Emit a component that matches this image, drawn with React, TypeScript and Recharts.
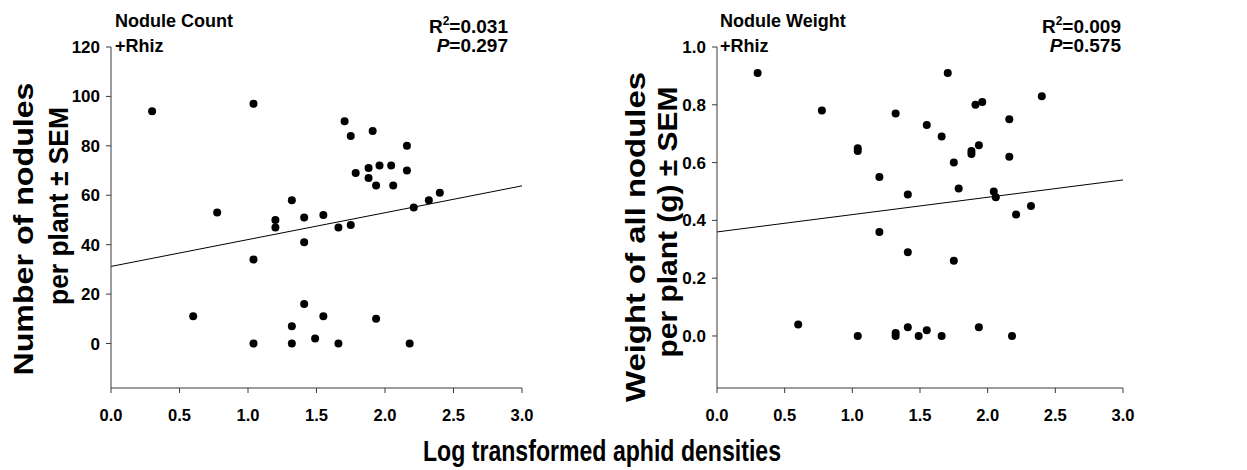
import { ReferenceLine, Scatter, ScatterChart, XAxis, YAxis } from 'recharts';

// log transformed aphid densities, one entry per plant (shared by both panels)
const aphidDensity = [
  0.3, 0.6, 0.775, 1.04, 1.04, 1.04, 1.2, 1.2, 1.32, 1.32, 1.32, 1.41, 1.41, 1.41, 1.49, 1.55, 1.55,
  1.66, 1.66, 1.705, 1.75, 1.75, 1.786, 1.88, 1.88, 1.91, 1.935, 1.935, 1.96, 2.045, 2.06, 2.16, 2.16,
  2.18, 2.21, 2.32, 2.4,
];

const noduleCount = [
  94, 11, 53, 97, 34, 0, 50, 47, 58, 7, 0, 51, 41, 16, 2, 52, 11, 47, 0, 90, 84, 48, 69, 71, 67, 86, 64,
  10, 72, 72, 64, 80, 70, 0, 55, 58, 61,
];

const noduleWeight = [
  0.91, 0.04, 0.78, 0.65, 0.64, 0.0, 0.55, 0.36, 0.77, 0.01, 0.0, 0.49, 0.29, 0.03, 0.0, 0.73, 0.02,
  0.69, 0.0, 0.91, 0.6, 0.26, 0.51, 0.64, 0.63, 0.8, 0.66, 0.03, 0.81, 0.5, 0.48, 0.75, 0.62, 0.0, 0.42,
  0.45, 0.83,
];

// fitted lines, read at x = 0 and x = 3
const countFit = [31.2, 63.8];
const weightFit = [0.36, 0.54];

const xTicks = [0, 0.5, 1, 1.5, 2, 2.5, 3];
const countTicks = [0, 20, 40, 60, 80, 100, 120];
const weightTicks = [0, 0.2, 0.4, 0.6, 0.8, 1.0];

const FONT = '"Liberation Sans", Arial, Helvetica, sans-serif';
const AXIS = '#3a3a3a';

const countData = aphidDensity.map((x, i) => ({ x, y: noduleCount[i] }));
const weightData = aphidDensity.map((x, i) => ({ x, y: noduleWeight[i] }));

function Dot(props: any) {
  return <circle cx={props.cx} cy={props.cy} r={4} fill="#000" />;
}

function XTick({ x, y, payload }: any) {
  return (
    <text
      x={x}
      y={y + 26}
      textAnchor="middle"
      fontFamily={FONT}
      fontWeight="bold"
      fontSize={17}
      fill="#000"
      textLength={23}
      lengthAdjust="spacingAndGlyphs"
    >
      {payload.value.toFixed(1)}
    </text>
  );
}

function makeYTick(digits: number) {
  return function YTick({ x, y, payload }: any) {
    return (
      <text x={x - 4} y={y + 6} textAnchor="end" fontFamily={FONT} fontWeight="bold" fontSize={17} fill="#000">
        {payload.value.toFixed(digits)}
      </text>
    );
  };
}

type PanelProps = {
  data: { x: number; y: number }[];
  fit: number[];
  yDomain: [number, number];
  yTicks: number[];
  digits: number;
  width: number;
  axisWidth: number;
  right: number;
};

function Panel({ data, fit, yDomain, yTicks, digits, width, axisWidth, right }: PanelProps) {
  return (
    <ScatterChart width={width} height={470} margin={{ top: 47, right, bottom: 42, left: 0 }}>
      <XAxis
        type="number"
        dataKey="x"
        domain={[0, 3]}
        ticks={xTicks}
        height={40}
        stroke={AXIS}
        tickSize={5}
        tick={<XTick />}
        interval={0}
      />
      <YAxis
        type="number"
        dataKey="y"
        domain={yDomain}
        ticks={yTicks}
        width={axisWidth}
        stroke={AXIS}
        tickSize={5}
        tick={makeYTick(digits)}
        interval={0}
        allowDataOverflow
      />
      <ReferenceLine
        segment={[
          { x: 0, y: fit[0] },
          { x: 3, y: fit[1] },
        ]}
        stroke="#000"
        strokeWidth={1}
      />
      <Scatter data={data} shape={<Dot />} isAnimationActive={false} />
    </ScatterChart>
  );
}

function Stats({ x, r2, p }: { x: number; r2: string; p: string }) {
  return (
    <>
      <text x={x} y={33} textAnchor="end" fontSize={19} fontWeight="bold">
        R<tspan fontSize={12} dy={-8}>2</tspan>
        <tspan dy={8}>={r2}</tspan>
      </text>
      <text x={x} y={52} textAnchor="end" fontSize={19} fontWeight="bold">
        <tspan fontStyle="italic">P</tspan>={p}
      </text>
    </>
  );
}

export default function App() {
  return (
    <div style={{ position: 'absolute', left: 0, top: 0, width: 1247, height: 470, background: '#fff' }}>
      <div style={{ position: 'absolute', left: 0, top: 0 }}>
        <Panel
          data={countData}
          fit={countFit}
          yDomain={[-18, 120]}
          yTicks={countTicks}
          digits={0}
          width={620}
          axisWidth={111}
          right={98}
        />
      </div>
      <div style={{ position: 'absolute', left: 620, top: 0 }}>
        <Panel
          data={weightData}
          fit={weightFit}
          yDomain={[-0.18, 1.0]}
          yTicks={weightTicks}
          digits={1}
          width={627}
          axisWidth={97}
          right={124}
        />
      </div>
      <svg
        width={1247}
        height={470}
        style={{ position: 'absolute', left: 0, top: 0, pointerEvents: 'none' }}
        fontFamily={FONT}
        fill="#000"
      >
        <text x={115} y={27} fontSize={18} fontWeight="bold">Nodule Count</text>
        <text x={115} y={52} fontSize={18} fontWeight="bold">+Rhiz</text>
        <Stats x={508} r2="0.031" p="0.297" />

        <text x={720} y={27} fontSize={18} fontWeight="bold">Nodule Weight</text>
        <text x={720} y={52} fontSize={18} fontWeight="bold">+Rhiz</text>
        <Stats x={1121} r2="0.009" p="0.575" />

        <text
          x={33}
          y={229}
          transform="rotate(-90 33 229)"
          textAnchor="middle"
          fontSize={28}
          fontWeight="bold"
          textLength={293}
          lengthAdjust="spacingAndGlyphs"
        >
          Number of nodules
        </text>
        <text
          x={68}
          y={206}
          transform="rotate(-90 68 206)"
          textAnchor="middle"
          fontSize={28}
          fontWeight="bold"
          textLength={198}
          lengthAdjust="spacingAndGlyphs"
        >
          per plant ± SEM
        </text>
        <text
          x={645}
          y={237}
          transform="rotate(-90 645 237)"
          textAnchor="middle"
          fontSize={27}
          fontWeight="bold"
          textLength={330}
          lengthAdjust="spacingAndGlyphs"
        >
          Weight of all nodules
        </text>
        <text
          x={677}
          y={222}
          transform="rotate(-90 677 222)"
          textAnchor="middle"
          fontSize={27}
          fontWeight="bold"
          textLength={271}
          lengthAdjust="spacingAndGlyphs"
        >
          per plant (g) ± SEM
        </text>

        <text x={423} y={461} fontSize={29} fontWeight="bold" textLength={358} lengthAdjust="spacingAndGlyphs">
          Log transformed aphid densities
        </text>
      </svg>
    </div>
  );
}
